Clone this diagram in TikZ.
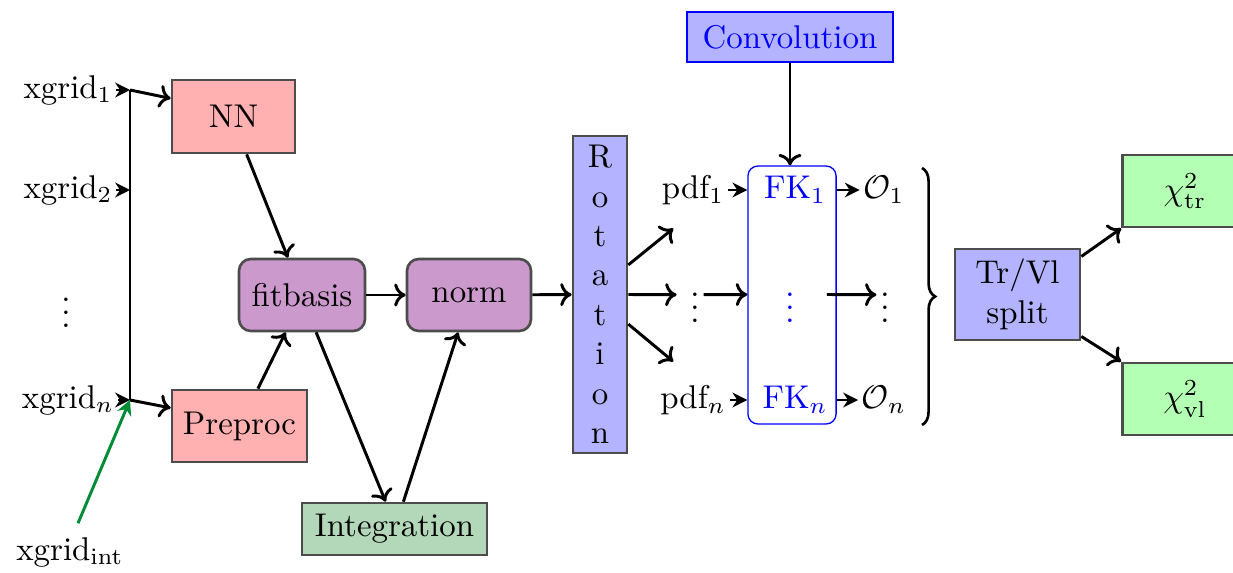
\documentclass[tikz,border=0pt]{standalone}
\usetikzlibrary{arrows.meta,decorations.pathreplacing,calc}
\definecolor{pinkfill}{RGB}{255,176,176}
\definecolor{purplefill}{RGB}{204,153,204}
\definecolor{intfill}{RGB}{178,216,185}
\definecolor{bluefill}{RGB}{179,179,255}
\definecolor{greenfill}{RGB}{179,255,179}
\definecolor{darkgreen}{RGB}{0,140,55}
\begin{document}
\begin{tikzpicture}[x=0.304pt,y=-0.304pt,
  box/.style={draw=black!70,thick,inner sep=0pt,align=center},
  rbox/.style={box,rounded corners=3.6pt},
  lbl/.style={inner sep=1pt},
  arr/.style={line width=0.9pt,-{To[length=3.5pt,width=7pt]}},
  sarr/.style={line width=0.9pt,-{Stealth[length=4.5pt,width=4.5pt]}}]
\clip (0,0) rectangle (1233,573);
\useasboundingbox (0,0) rectangle (1233,573);
% labels left
\node[lbl] (x1) at (68,90) {xgrid$_1$};
\node[lbl] (x2) at (68,190) {xgrid$_2$};
\node[lbl] (xd) at (66,303) {$\vdots$};
\node[lbl] (xn) at (68,400) {xgrid$_n$};
\node[lbl] (xint) at (70,552) {xgrid$_{\mathrm{int}}$};
\coordinate (j1) at (130,90);
\coordinate (j2) at (130,190);
\coordinate (jn) at (130,400);
% boxes
\node[box,fill=pinkfill,minimum width=37.4pt,minimum height=22.2pt] (NN) at (233.5,116.5) {NN};
\node[box,fill=pinkfill,minimum width=41pt,minimum height=21.9pt] (pre) at (239.5,426) {Preproc};
\node[rbox,fill=purplefill,minimum width=38.3pt,minimum height=21.9pt] (fit) at (302,295) {fitbasis};
\node[rbox,fill=purplefill,minimum width=37.7pt,minimum height=21.9pt] (norm) at (469,295) {norm};
\node[box,fill=intfill,minimum width=56.2pt,minimum height=15.8pt] (int) at (394.5,529) {Integration};
\node[box,fill=bluefill,minimum width=16.4pt,minimum height=96.4pt] (rot) at (600,294.5) {R\\o\\t\\a\\t\\i\\o\\n};
\node[draw=blue,thick,fill=bluefill,text=blue,inner sep=0pt,minimum width=62.6pt,minimum height=15.2pt] (conv) at (790,37) {Convolution};
\node[draw=blue,thin,rounded corners=3pt,minimum width=26.8pt,minimum height=78.4pt,inner sep=0pt] (fk) at (792,295) {};
\node[lbl,text=blue] (fk1) at (795,190) {FK$_1$};
\node[lbl,text=blue] (fkd) at (790,298) {$\vdots$};
\node[lbl,text=blue] (fkn) at (795,400) {FK$_n$};
\node[lbl] (p1) at (693,190) {pdf$_1$};
\node[lbl] (pd) at (695,298) {$\vdots$};
\node[lbl] (pn) at (693,400) {pdf$_n$};
\node[lbl] (o1) at (884,190) {$\mathcal{O}_1$};
\node[lbl] (od) at (885,298) {$\vdots$};
\node[lbl] (on) at (884,400) {$\mathcal{O}_n$};
\coordinate (bt) at (922,168);
\coordinate (bb) at (922,425);
\node[box,fill=bluefill,minimum width=38pt,minimum height=27.7pt] (split) at (1017.5,294.5) {Tr/Vl\\split};
\node[box,fill=greenfill,minimum width=38pt,minimum height=21.9pt] (ctr) at (1185,191) {$\chi^2_{\mathrm{tr}}$};
\node[box,fill=greenfill,minimum width=38pt,minimum height=21.9pt] (cvl) at (1185,399) {$\chi^2_{\mathrm{vl}}$};
% connectors left
\draw[sarr] (x1) -- (j1);
\draw[sarr] (x2) -- (j2);
\draw[sarr] (xn) -- (jn);
\draw[line width=0.9pt] (j1) -- (jn);
\draw[arr] (j1) -- ([yshift=5.5pt]NN.west);
\draw[arr] (jn) -- ([yshift=5.5pt]pre.west);
\draw[line width=0.9pt,darkgreen,-{Stealth[length=4.5pt,width=4.5pt]}] (xint.north) ++(8,-10) coordinate (gs) (gs) -- (jn);
\draw[arr] ([xshift=4pt]NN.south) -- ([xshift=-4.3pt]fit.north);
\draw[arr] ([xshift=5.6pt]pre.north) -- ([xshift=-5pt]fit.south);
\draw[arr] ([xshift=4.3pt]fit.south) -- ([xshift=-2.7pt]int.north);
\draw[arr] ([xshift=2.7pt]int.north) -- ([xshift=-3.3pt]norm.south);
\draw[arr] (fit) -- (norm);
\draw[arr] (norm) -- (rot);
% rotation outputs
\draw[arr] ([yshift=9pt]rot.east) -- ([xshift=-6pt,yshift=-6pt]p1.south);
\draw[arr] (rot.east) -- ([xshift=-3pt,yshift=1pt]pd.west);
\draw[arr] ([yshift=-9pt]rot.east) -- ([xshift=-6pt,yshift=6pt]pn.north);
\draw[sarr] (p1) -- (fk.west |- p1);
\draw[sarr] (pn) -- (fk.west |- pn);
\draw[arr] ([yshift=1pt]pd.east) -- (fk.west |- rot.east);
\draw[arr] ([xshift=-3pt]fk.east |- rot.east) -- ([yshift=1pt]od.west);
\draw[sarr] (fk.east |- fk1) -- (o1);
\draw[sarr] (fk.east |- fkn) -- (on);
\draw[arr] (conv) -- (conv |- fk.north);
\draw[thick,decorate,decoration={brace,amplitude=4pt}] (bt) -- (bb);
\draw[arr] ([yshift=-2.7pt]split.north east) -- (ctr.south west);
\draw[arr] ([yshift=1.5pt]split.south east) -- (cvl.north west);
\end{tikzpicture}
\end{document}
